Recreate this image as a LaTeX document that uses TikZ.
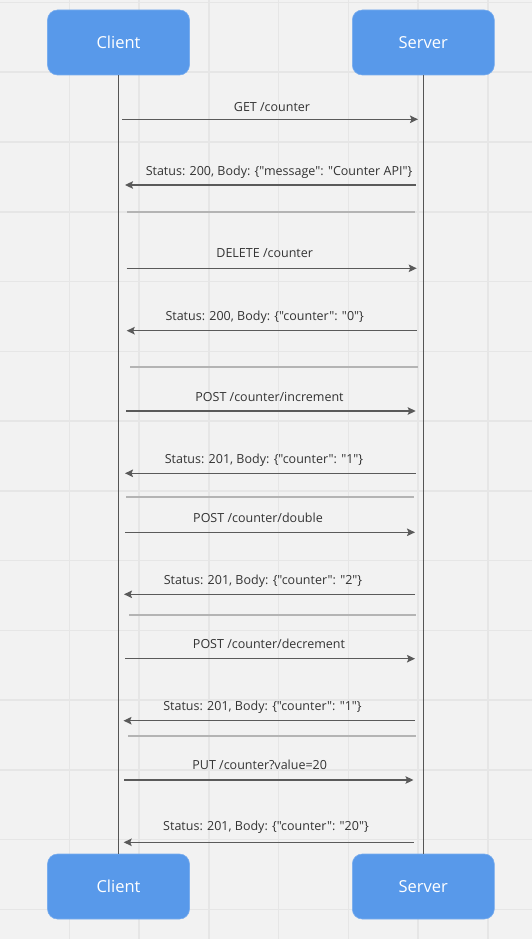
\documentclass[tikz,border=0pt]{standalone}
\usepackage{fontspec}
\setmainfont{Open Sans}[Ligatures=TeXOff]
\usetikzlibrary{arrows.meta}
\definecolor{bg}{HTML}{F2F2F2}
\definecolor{gridc}{HTML}{E6E6E6}
\definecolor{boxblue}{HTML}{5899EA}
\definecolor{lifec}{HTML}{555555}
\definecolor{msgc}{HTML}{5A5A5A}
\definecolor{sepc}{HTML}{B4B4B4}
\definecolor{txtc}{HTML}{333333}
\tikzset{
  actor/.style={rounded corners=10pt, fill=boxblue, draw=boxblue!80!white, line width=0.6pt,
    minimum width=142pt, minimum height=65pt, inner sep=0pt,
    text=white, font=\fontsize{16.5}{18}\selectfont},
  lifeline/.style={draw=lifec, line width=1pt},
  msg/.style={draw=msgc, line width=1.2pt, -{Stealth[length=8pt,width=7.5pt,inset=1.5pt]}},
  sepline/.style={draw=sepc, line width=1.3pt},
  lbl/.style={text=txtc, font=\fontsize{12.5}{14}\selectfont, inner sep=0pt},
}
\begin{document}
\begin{tikzpicture}[x=1pt,y=-1pt]
\useasboundingbox (0,0) rectangle (532,939);
\fill[bg] (0,0) rectangle (532,939);
% grid
\foreach \k in {1,...,7} {\draw[gridc, line width=1.5pt] ({-0.3+69.75*\k},0) -- ({-0.3+69.75*\k},939);}
\foreach \k in {0,...,13} {\draw[gridc, line width=1.5pt] (0,{2.5+69.75*\k}) -- (532,{2.5+69.75*\k});}
% actors
\node[actor] (ct) at (118.5,42.5) {Client};
\node[actor] (st) at (423.3,42.5) {Server};
\node[actor] (cb) at (118.5,886.5) {Client};
\node[actor] (sb) at (423.3,886.5) {Server};
\draw[lifeline] (ct.south) -- (cb.north);
\draw[lifeline] (st.south) -- (sb.north);
% message end points
\coordinate (m1a) at (122,119.3);   \coordinate (m1b) at (418,119.3);
\coordinate (m2a) at (416,185);     \coordinate (m2b) at (125,185);
\coordinate (s1a) at (127,212);     \coordinate (s1b) at (415,212);
\coordinate (m3a) at (126.7,268.3); \coordinate (m3b) at (416.7,268.3);
\coordinate (m4a) at (416.7,330.7); \coordinate (m4b) at (126.7,330.7);
\coordinate (s2a) at (130,367);     \coordinate (s2b) at (417.7,367);
\coordinate (m5a) at (126,411);     \coordinate (m5b) at (415.7,411);
\coordinate (m6a) at (415.7,473.3); \coordinate (m6b) at (125,473.3);
\coordinate (s3a) at (126,497);     \coordinate (s3b) at (414,497);
\coordinate (m7a) at (125,532.3);   \coordinate (m7b) at (415,532.3);
\coordinate (m8a) at (415,594.3);   \coordinate (m8b) at (124,594.3);
\coordinate (s4a) at (129,615);     \coordinate (s4b) at (416,615);
\coordinate (m9a) at (125,658.7);   \coordinate (m9b) at (415,658.7);
\coordinate (m10a) at (415,720.7);  \coordinate (m10b) at (123.5,720.7);
\coordinate (s5a) at (128,736);     \coordinate (s5b) at (416,736);
\coordinate (m11a) at (124,780);    \coordinate (m11b) at (413.5,780);
\coordinate (m12a) at (413.5,842.3);\coordinate (m12b) at (123.7,842.3);
% messages
\foreach \i in {1,...,12} {\draw[msg] (m\i a) -- (m\i b);}
\foreach \i in {1,...,5} {\draw[sepline] (s\i a) -- (s\i b);}
% labels
\node[lbl] (l1) at (272,107) {GET /counter};
\node[lbl] (l2) at (279,172) {Status: 200, Body: \{"message": "Counter API"\}};
\node[lbl] (l3) at (264.7,253.5) {DELETE /counter};
\node[lbl] (l4) at (264.7,317.5) {Status: 200, Body: \{"counter": "0"\}};
\node[lbl] (l5) at (269.5,396.5) {POST /counter/increment};
\node[lbl] (l6) at (264,460) {Status: 201, Body: \{"counter": "1"\}};
\node[lbl] (l7) at (258,517.5) {POST /counter/double};
\node[lbl] (l8) at (263,581) {Status: 201, Body: \{"counter": "2"\}};
\node[lbl] (l9) at (269,643.5) {POST /counter/decrement};
\node[lbl] (l10) at (262.5,707.3) {Status: 201, Body: \{"counter": "1"\}};
\node[lbl] (l11) at (259.7,765.3) {PUT /counter?value=20};
\node[lbl] (l12) at (266,827.3) {Status: 201, Body: \{"counter": "20"\}};
\end{tikzpicture}
\end{document}
